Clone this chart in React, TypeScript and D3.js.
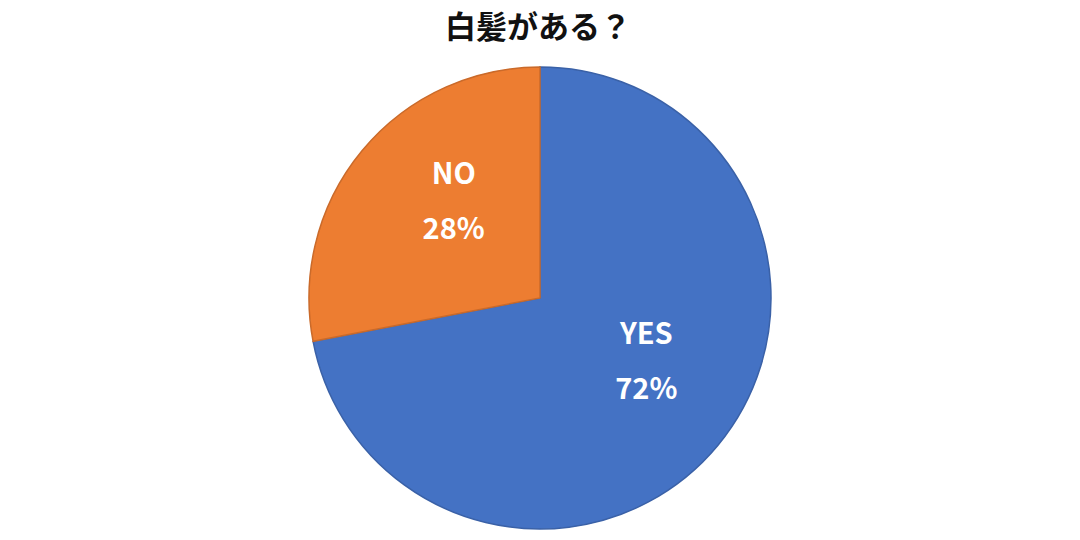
import React from "react";
import * as d3 from "d3";

const categories = ["YES", "NO"];
const values = [72, 28];
const colors = ["#4472C4", "#ED7D31"];
const title = "白髪がある？";

const W = 1080;
const H = 540;
const cx = 540;
const cy = 298;
const R = 231;

export default function App() {
  const data = categories.map((c, i) => ({ name: c, value: values[i], color: colors[i] }));
  const pie = d3.pie<any>().value((d) => d.value).sort(null);
  const arcs = pie(data);
  const arc = d3.arc<any>().innerRadius(0).outerRadius(R);
  const labelArc = d3.arc<any>().innerRadius(125).outerRadius(125);
  const total = d3.sum(values);
  return (
    <svg width={W} height={H} style={{ position: "absolute", left: 0, top: 0, background: "#fff" }}>
      <text x={538} y={38} textAnchor="middle" fontFamily="'Noto Sans CJK JP'" fontWeight={700} fontSize={31} fill="#111">
        {title}
      </text>
      <g transform={`translate(${cx},${cy})`}>
        {arcs.map((a, i) => (
          <path key={i} d={arc(a) as string} fill={a.data.color} stroke={d3.color(a.data.color)!.darker(0.45).toString()} strokeWidth={1.5} />
        ))}
        {arcs.map((a, i) => {
          const [x0, y0] = labelArc.centroid(a);
          const x = x0 + 10;
          const y = y0 - 18;
          return (
            <g key={"l" + i} fontFamily="'Noto Sans CJK JP'" fontWeight={700} fontSize={29} fill="#fff" textAnchor="middle">
              <text x={x} y={y - 16}>{a.data.name}</text>
              <text x={x} y={y + 39}>{Math.round((a.data.value / total) * 100) + "%"}</text>
            </g>
          );
        })}
      </g>
    </svg>
  );
}
